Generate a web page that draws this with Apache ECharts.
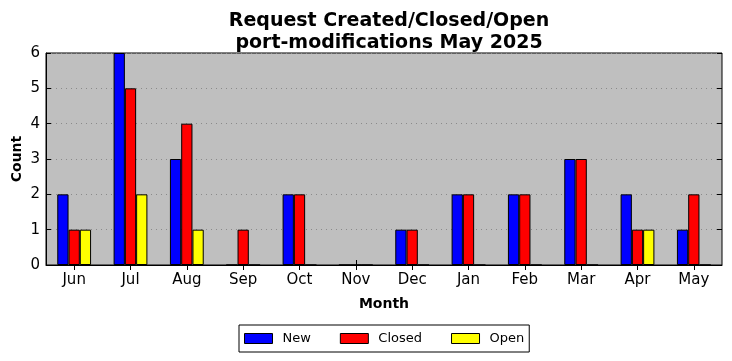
<!DOCTYPE html>
<html>
<head>
<meta charset="utf-8">
<script src="https://cdn.jsdelivr.net/npm/echarts@6/dist/echarts.min.js"></script>
<style>html,body{margin:0;padding:0;background:#fff}#c{width:732px;height:361px}</style>
</head>
<body>
<div id="c"></div>
<script>
const months = ['Jun','Jul','Aug','Sep','Oct','Nov','Dec','Jan','Feb','Mar','Apr','May'];
const newVals = [2,6,3,0,2,0,1,2,2,3,2,1];
const closedVals = [1,5,4,1,2,0,1,2,2,3,1,2];
const openVals = [1,2,1,0,0,0,0,0,0,0,1,0];
const yTicks = [0,1,2,3,4,5,6];

const font = 'DejaVu Sans';
const chart = echarts.init(document.getElementById('c'));
const barStyle = c => ({color: c, borderColor: '#000', borderWidth: 1});
chart.setOption({
  animation: false,
  textStyle: {fontFamily: font},
  title: {
    text: 'Request Created/Closed/Open\nport-modifications May 2025',
    left: 384, textAlign: 'center', top: 5,
    textStyle: {fontFamily: font, fontWeight: 'bold', fontSize: 19, lineHeight: 22, color: '#000'}
  },
  graphic: [{
    type: 'text', x: 17, y: 159, rotation: Math.PI / 2,
    style: {text: 'Count', fontFamily: font, fontWeight: 'bold', fontSize: 14, fill: '#000', align: 'center', verticalAlign: 'middle'}
  }],
  grid: {left: 46, right: 10, top: 53, bottom: 96, show: true, backgroundColor: '#bfbfbf', borderColor: '#000', borderWidth: 1, containLabel: false, outerBoundsMode: 'none'},
  legend: {
    bottom: 9, left: 239,
    data: ['New','Closed','Open'],
    icon: 'rect',
    itemWidth: 28, itemHeight: 10, itemGap: 29,
    itemStyle: {borderColor: '#000', borderWidth: 1},
    borderColor: '#000', borderWidth: 1, borderRadius: 0, padding: [7, 5, 7, 5],
    textStyle: {fontFamily: font, fontSize: 13, color: '#000', padding: [0, 0, 0, 5]}
  },
  xAxis: [{
    type: 'category', data: months,
    name: 'Month', nameLocation: 'middle', nameGap: 32,
    nameTextStyle: {fontFamily: font, fontWeight: 'bold', fontSize: 14, color: '#000'},
    axisLine: {show: true, lineStyle: {color: '#000'}},
    axisTick: {show: true, inside: true, alignWithLabel: true, length: 5, lineStyle: {color: '#000'}},
    axisLabel: {fontFamily: font, fontSize: 15, color: '#000', margin: 8},
    splitLine: {show: false}
  }, {
    type: 'category', data: months, position: 'top',
    axisLine: {show: false},
    axisTick: {show: true, inside: true, alignWithLabel: true, length: 5, lineStyle: {color: '#000'}},
    axisLabel: {show: false}
  }],
  yAxis: [{
    type: 'value', min: 0, max: 6, interval: 1,
    axisLine: {show: true, lineStyle: {color: '#000'}},
    axisTick: {show: true, inside: true, length: 5, lineStyle: {color: '#000'}},
    axisLabel: {fontFamily: font, fontSize: 15, color: '#000', margin: 6},
    splitLine: {show: true, lineStyle: {color: '#8a8a8a', type: [1, 4]}}
  }, {
    type: 'value', min: 0, max: 6, interval: 1, position: 'right',
    axisLine: {show: false},
    axisTick: {show: true, inside: true, length: 5, lineStyle: {color: '#000'}},
    axisLabel: {show: false}, splitLine: {show: false}
  }],
  series: [
    {name: 'New', type: 'bar', data: newVals, itemStyle: barStyle('#0000ff'), barWidth: '20%', barGap: '0%'},
    {name: 'Closed', type: 'bar', data: closedVals, itemStyle: barStyle('#ff0000'), barWidth: '20%', barGap: '0%'},
    {name: 'Open', type: 'bar', data: openVals, itemStyle: barStyle('#ffff00'), barWidth: '20%', barGap: '0%'}
  ]
});
</script>
</body>
</html>
